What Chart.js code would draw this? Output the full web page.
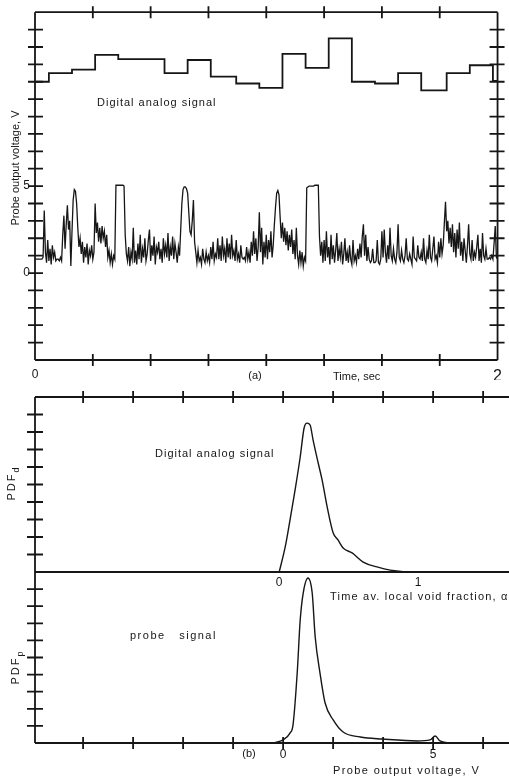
<!DOCTYPE html>
<html>
<head>
<meta charset="utf-8">
<script src="https://cdn.jsdelivr.net/npm/chart.js@4.4.1/dist/chart.umd.min.js"></script>
<style>
  html, body { margin: 0; padding: 0; background: #fff; }
  #page { position: relative; width: 509px; height: 777px; overflow: hidden;
          font-family: "Liberation Sans", sans-serif; color: #161616; }
  canvas { position: absolute; left: 0; }
  .t { position: absolute; font-size: 11px; white-space: nowrap; transform: translateY(-50%); }
  .c { transform: translate(-50%, -50%); }
  .r { transform: translate(-50%, -50%) rotate(-90deg); }
  sub { font-size: 9px; }
</style>
</head>
<body>
<div id="page">
  <canvas id="traceChart" width="509" height="380" style="top:0"></canvas>
  <canvas id="pdfdChart" width="509" height="196" style="top:380px"></canvas>
  <canvas id="pdfpChart" width="509" height="209" style="top:568px"></canvas>

  <div class="t" style="left:97px;top:102px;letter-spacing:1px">Digital analog signal</div>
  <div class="t r" style="left:15px;top:168px">Probe output voltage, V</div>
  <div class="t c" style="left:255px;top:375px">(a)</div>
  <div class="t" style="left:333px;top:376px">Time, sec</div>

  <div class="t" style="left:155px;top:453px;letter-spacing:1px">Digital analog signal</div>
  <div class="t r" style="left:13px;top:483px;letter-spacing:2px">PDF<sub>d</sub></div>
  <div class="t c" style="left:279px;top:582px;font-size:12px">0</div>
  <div class="t c" style="left:418px;top:582px;font-size:12px">1</div>
  <div class="t" style="left:330px;top:596px;letter-spacing:1.2px">Time av. local void fraction, α</div>
  <div class="t" style="left:130px;top:635px;letter-spacing:1.5px;word-spacing:9px">probe signal</div>
  <div class="t r" style="left:17px;top:667px;letter-spacing:2px">PDF<sub>p</sub></div>
  <div class="t c" style="left:249px;top:753px">(b)</div>
  <div class="t" style="left:333px;top:770px;letter-spacing:1.4px">Probe output voltage, V</div>
</div>
<script>
// panel (a): time traces
const timeTicks = [0, 0.25, 0.5, 0.75, 1, 1.25, 1.5, 1.75, 2];
const timeLabelled = [0, 2];
const voltTicks = [-5, -4, -3, -2, -1, 0, 1, 2, 3, 4, 5, 6, 7, 8, 9, 10, 11, 12, 13, 14, 15];
const voltLabelled = [0, 5];

// digital analog signal, level held from each time to the next
const stepTimes = [0, 0.06, 0.16, 0.26, 0.36, 0.46, 0.56, 0.66, 0.76, 0.87, 0.97,
  1.07, 1.17, 1.27, 1.37, 1.47, 1.57, 1.67, 1.78, 1.88, 1.98, 2.0];
const stepLevels = [11.0, 11.5, 11.7, 12.55, 12.3, 12.3, 11.5, 12.25, 11.3, 10.9, 10.65,
  12.6, 11.8, 13.5, 11.0, 10.9, 11.5, 10.5, 11.5, 11.95, 11.05, 11.05];

// probe signal, one reading every 5 ms
const sampleStep = 0.005;
const probeV = [
  0.8,0.8,0.8,0.8,0.8,0.8,0.8,0.9,3.6,1.2,
  0.6,1.9,0.7,1.4,0.5,1.6,0.9,1.2,0.7,0.8,
  0.8,0.7,0.9,0.7,2.2,3.3,1.4,2.8,3.9,2.5,
  3.0,0.4,2.4,4.2,4.8,4.7,4.0,2.6,1.5,2.0,
  1.1,1.8,0.6,1.5,0.9,1.7,0.5,1.3,1.0,1.6,
  0.8,1.2,4.0,2.3,2.9,1.8,2.6,1.7,2.7,2.0,
  2.4,1.5,2.2,0.9,1.3,0.6,1.1,0.5,1.0,0.8,
  5.05,5.05,5.05,5.05,5.05,5.05,5.05,5.0,2.2,1.1,
  0.7,1.5,0.4,1.2,0.8,2.6,0.6,1.3,0.5,1.7,
  0.8,2.2,0.6,1.4,0.9,2.0,0.7,1.1,1.9,2.5,
  0.7,1.6,1.0,2.1,0.5,1.5,1.2,1.8,0.8,1.4,
  0.6,2.0,1.1,1.6,0.9,2.3,0.7,1.5,1.0,2.1,
  0.8,1.7,1.2,0.6,1.5,1.0,2.5,4.0,4.8,4.95,
  4.95,4.85,4.6,3.5,2.4,2.2,3.0,4.2,1.8,1.2,
  0.6,1.3,0.7,0.9,0.5,1.4,0.8,0.6,1.2,0.7,
  1.0,0.6,1.5,0.8,1.8,0.7,1.1,0.9,2.0,0.8,
  1.6,0.7,2.1,1.0,1.4,0.6,2.0,0.9,1.7,0.8,
  2.2,1.0,1.3,0.7,1.9,0.8,1.1,0.6,1.6,0.9,
  0.8,0.9,0.7,1.5,0.8,1.2,0.6,1.8,1.0,2.4,
  1.1,2.0,0.7,1.5,3.5,1.2,2.6,0.5,1.8,0.9,
  2.2,0.8,1.9,1.2,2.4,0.9,1.6,2.8,3.8,4.6,
  4.75,4.5,3.2,2.0,2.9,1.8,2.6,1.6,2.4,1.3,
  2.2,1.5,2.5,1.1,1.9,0.8,2.6,1.0,0.5,1.3,
  0.6,1.2,0.4,0.9,0.7,4.9,4.95,5.0,5.0,5.0,
  5.0,5.0,5.05,5.05,5.05,5.05,2.1,1.0,1.8,0.6,
  1.9,0.7,2.4,0.9,1.5,0.5,2.2,0.8,1.6,0.6,
  1.3,2.3,0.7,1.4,0.9,1.8,0.5,1.1,2.0,0.7,
  1.2,0.6,1.6,0.8,0.5,1.9,0.7,1.0,0.6,1.4,
  0.8,1.7,0.9,2.1,2.8,1.0,2.2,0.7,1.5,0.8,
  0.6,0.7,1.4,0.6,0.6,0.7,1.9,0.6,0.5,0.8,
  2.4,0.9,2.5,1.2,0.6,1.6,0.8,2.6,1.0,0.7,
  1.4,0.8,0.6,1.2,2.8,0.9,0.7,1.3,0.8,0.6,
  1.0,2.0,0.8,0.7,1.1,0.8,0.5,2.1,0.9,0.8,
  0.7,1.6,0.9,0.8,1.2,0.7,2.0,0.8,0.6,1.3,
  0.8,2.2,0.9,0.7,1.4,2.1,0.8,1.0,0.6,1.8,
  0.9,2.0,1.1,1.6,2.9,4.1,2.4,3.0,1.7,2.6,
  1.5,2.8,1.2,2.3,0.9,2.5,1.4,2.9,1.0,1.8,
  0.7,2.0,1.3,0.6,1.6,2.8,1.1,0.8,1.9,0.7,
  1.2,0.9,1.5,2.2,0.7,1.4,0.6,2.3,1.0,0.8,
  1.4,0.8,0.8,0.9,0.8,1.0,0.8,1.7,2.7,0.9,0.8
];

// panel (b): probability density functions vs probe output voltage
const pdfXMin = -8.27, pdfXMax = 7.53;
const pdfXTicks = [-6.667, -5, -3.333, -1.667, 0, 1.667, 3.333, 5, 6.667];
const pdfXLabelled = [0, 5];
const pdfYTicks = [0, 1, 2, 3, 4, 5, 6, 7, 8, 9, 10];

const pdfdV = [-0.13, 0.07, 0.23, 0.4, 0.57, 0.7, 0.8, 0.9, 1.0, 1.17, 1.3, 1.47, 1.67, 1.83, 2.0, 2.3, 2.67, 3.13, 3.57, 4.47, 7.53];
const pdfdY = [0, 1.43, 2.97, 4.69, 6.57, 8.23, 8.51, 8.4, 7.54, 6.23, 5.26, 3.71, 2.23, 1.83, 1.37, 1.09, 0.57, 0.29, 0.11, 0, 0];

const pdfpV = [-0.33, 0, 0.23, 0.33, 0.47, 0.57, 0.67, 0.83, 0.97, 1.07, 1.23, 1.4, 1.67, 2.0, 2.57, 3.33, 4.47, 4.9, 5.07, 5.23, 5.57];
const pdfpY = [0, 0.18, 0.58, 1.05, 4.09, 7.19, 8.77, 9.65, 8.77, 6.2, 4.09, 2.34, 1.35, 0.64, 0.35, 0.23, 0.12, 0.18, 0.41, 0.12, 0];

const ink = '#161616';
Chart.defaults.font.family = '"Liberation Sans", sans-serif';
Chart.defaults.color = ink;

// plot frame with tick marks crossing the axis lines, like the drafted original
const framePlugin = {
  id: 'frame',
  afterDatasetsDraw(chart, args, opts) {
    const { ctx, chartArea: a } = chart;
    ctx.save();
    ctx.strokeStyle = ink;
    ctx.lineWidth = 1.8;
    ctx.beginPath();
    (opts.sides || []).forEach(s => {
      if (s === 'left') { ctx.moveTo(a.left, a.top); ctx.lineTo(a.left, a.bottom); }
      if (s === 'right') { ctx.moveTo(a.right, a.top); ctx.lineTo(a.right, a.bottom); }
      if (s === 'top') { ctx.moveTo(a.left, a.top); ctx.lineTo(a.right, a.top); }
      if (s === 'bottom') { ctx.moveTo(a.left, a.bottom); ctx.lineTo(a.right, a.bottom); }
    });
    (opts.marks || []).forEach(m => {
      const sc = chart.scales[m.axis];
      m.values.forEach(v => {
        if (v <= sc.min || v >= sc.max) return;
        const p = sc.getPixelForValue(v);
        if (m.at === 'left') { ctx.moveTo(a.left - m.out, p); ctx.lineTo(a.left + m.inn, p); }
        if (m.at === 'right') { ctx.moveTo(a.right - m.inn, p); ctx.lineTo(a.right + m.out, p); }
        if (m.at === 'top') { ctx.moveTo(p, a.top - m.out); ctx.lineTo(p, a.top + m.inn); }
        if (m.at === 'bottom') { ctx.moveTo(p, a.bottom - m.inn); ctx.lineTo(p, a.bottom + m.out); }
      });
    });
    ctx.stroke();
    ctx.restore();
  }
};

const setTicks = values => s => { s.ticks = values.map(v => ({ value: v })); };
const labelOnly = list => v => list.includes(v) ? String(v) : '';

const baseOptions = {
  responsive: false,
  animation: false,
  plugins: { legend: { display: false }, tooltip: { enabled: false } },
  elements: { point: { radius: 0 } }
};

new Chart(document.getElementById('traceChart'), {
  type: 'line',
  data: {
    datasets: [
      { data: stepTimes.map((t, i) => ({ x: t, y: stepLevels[i] })),
        stepped: true, borderColor: ink, borderWidth: 1.8 },
      { data: probeV.map((v, i) => ({ x: i * sampleStep, y: v })),
        borderColor: ink, borderWidth: 1.3 }
    ]
  },
  options: {
    ...baseOptions,
    layout: { padding: { left: 0, top: 10, right: 7, bottom: 0 } },
    scales: {
      x: {
        type: 'linear', min: 0, max: 2,
        afterBuildTicks: setTicks(timeTicks),
        afterFit: s => { s.height = 20; },
        grid: { display: false, drawTicks: false }, border: { display: false },
        ticks: { autoSkip: false, maxRotation: 0, padding: 7, callback: labelOnly(timeLabelled),
                 font: c => ({ size: c.tick && c.tick.value === 2 ? 16 : 12 }) }
      },
      y: {
        min: -5, max: 15,
        afterBuildTicks: setTicks(voltTicks),
        afterFit: s => { s.width = 35; },
        grid: { display: false, drawTicks: false }, border: { display: false },
        ticks: { autoSkip: false, padding: 5, font: { size: 12 }, callback: labelOnly(voltLabelled) }
      }
    },
    plugins: {
      ...baseOptions.plugins,
      frame: {
        sides: ['left', 'top', 'right', 'bottom'],
        marks: [
          { axis: 'y', values: voltTicks, at: 'left', out: 7, inn: 8 },
          { axis: 'y', values: voltTicks, at: 'right', out: 7, inn: 8 },
          { axis: 'x', values: timeTicks, at: 'top', out: 6, inn: 6 },
          { axis: 'x', values: timeTicks, at: 'bottom', out: 6, inn: 6 }
        ]
      }
    }
  },
  plugins: [framePlugin]
});

const pdfScales = (xHeight, showX) => ({
  x: {
    type: 'linear', min: pdfXMin, max: pdfXMax,
    afterBuildTicks: setTicks(pdfXTicks),
    afterFit: s => { s.height = xHeight; },
    grid: { display: false, drawTicks: false }, border: { display: false },
    ticks: { display: showX, autoSkip: false, maxRotation: 0, padding: 4,
             font: { size: 12 }, callback: labelOnly(pdfXLabelled) }
  },
  y: {
    min: 0, max: 10,
    afterBuildTicks: setTicks(pdfYTicks),
    afterFit: s => { s.width = 35; },
    grid: { display: false, drawTicks: false }, border: { display: false },
    ticks: { display: false }
  }
});

new Chart(document.getElementById('pdfdChart'), {
  type: 'line',
  data: {
    datasets: [{ data: pdfdV.map((v, i) => ({ x: v, y: pdfdY[i] })),
      borderColor: ink, borderWidth: 1.4, cubicInterpolationMode: 'monotone' }]
  },
  options: {
    ...baseOptions,
    layout: { padding: { left: 0, top: 17, right: 0, bottom: 0 } },
    scales: pdfScales(4, false),
    plugins: {
      ...baseOptions.plugins,
      frame: {
        sides: ['left', 'top', 'bottom'],
        marks: [
          { axis: 'y', values: pdfYTicks, at: 'left', out: 8, inn: 8 },
          { axis: 'x', values: pdfXTicks, at: 'top', out: 6, inn: 6 }
        ]
      }
    }
  },
  plugins: [framePlugin]
});

new Chart(document.getElementById('pdfpChart'), {
  type: 'line',
  data: {
    datasets: [{ data: pdfpV.map((v, i) => ({ x: v, y: pdfpY[i] })),
      borderColor: ink, borderWidth: 1.4, cubicInterpolationMode: 'monotone' }]
  },
  options: {
    ...baseOptions,
    layout: { padding: { left: 0, top: 4, right: 0, bottom: 0 } },
    scales: pdfScales(34, true),
    plugins: {
      ...baseOptions.plugins,
      frame: {
        sides: ['left', 'bottom'],
        marks: [
          { axis: 'y', values: pdfYTicks, at: 'left', out: 8, inn: 8 },
          { axis: 'x', values: pdfXTicks, at: 'bottom', out: 6, inn: 6 }
        ]
      }
    }
  },
  plugins: [framePlugin]
});
</script>
</body>
</html>
